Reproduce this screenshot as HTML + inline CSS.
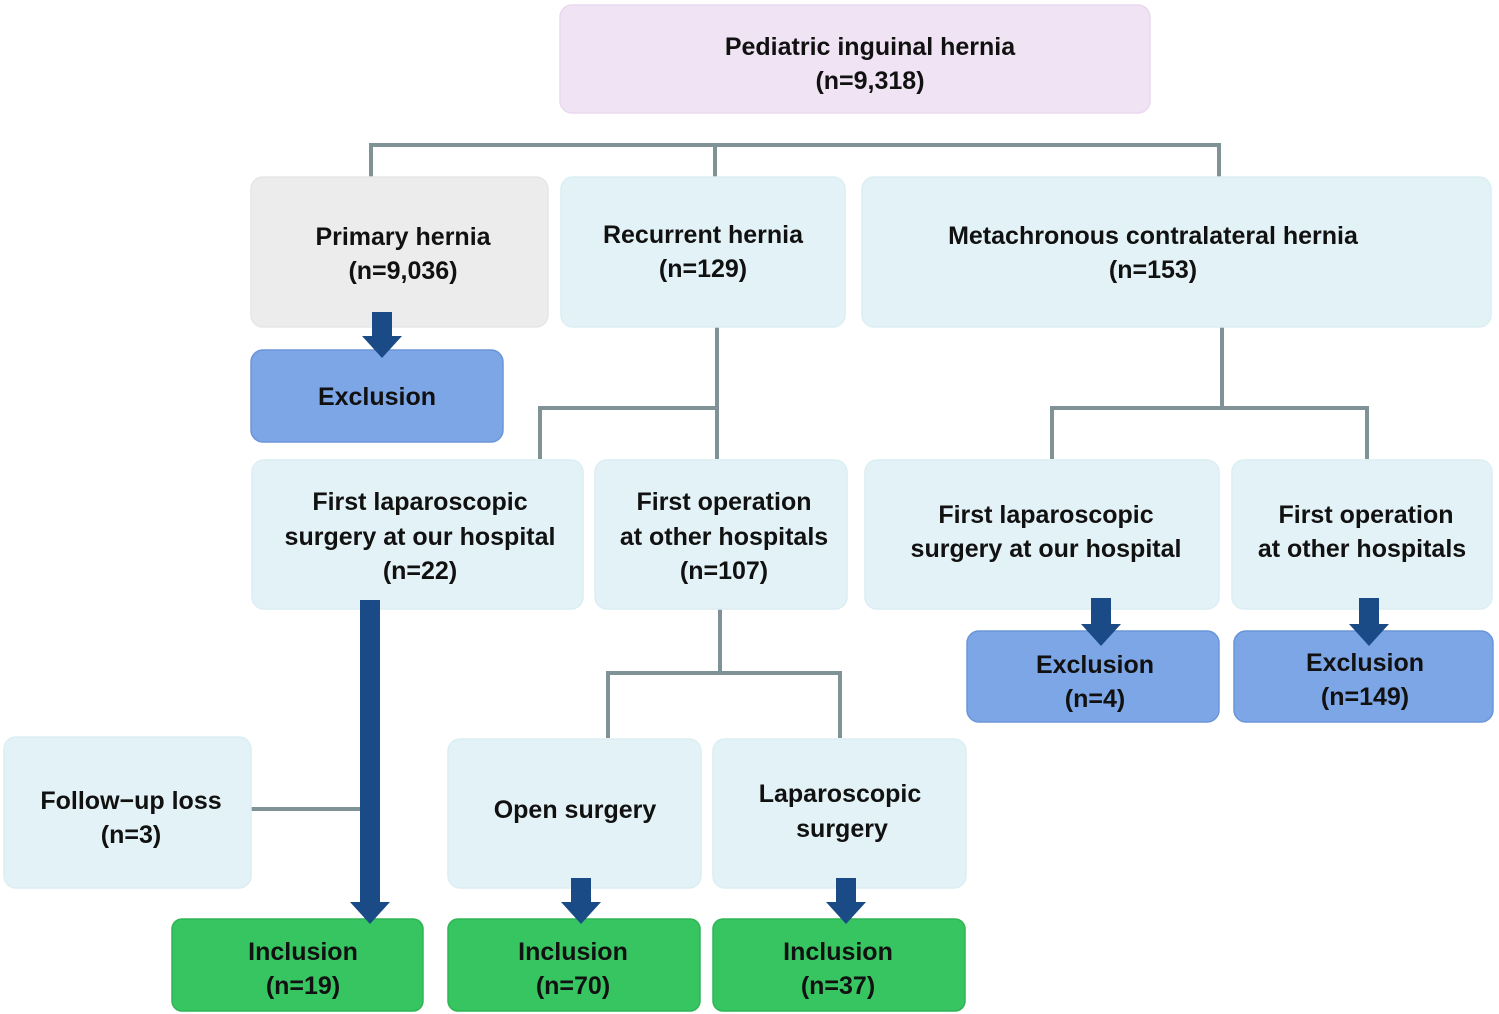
<!DOCTYPE html>
<html><head><meta charset="utf-8"><style>
html,body{margin:0;padding:0;background:#fff;}
svg{display:block;}
text{font-family:"Liberation Sans","DejaVu Sans",sans-serif;font-size:25px;fill:#111;text-anchor:middle;font-weight:bold;}
</style></head><body>
<svg width="1499" height="1014" viewBox="0 0 1499 1014" xmlns="http://www.w3.org/2000/svg">
<g stroke="#7f9296" stroke-width="4" fill="none">
<path d="M371 177V145H1219V177M715 145V177"/>
<path d="M717 327V459M540 459V408H717"/>
<path d="M1222 327V408M1052 459V408H1367V459"/>
<path d="M720 609V673M608 738V673H840V738"/>
<path d="M251 809H362"/>
</g>
<g stroke-width="1.5">
<rect x="560" y="5" width="590" height="108" rx="12" fill="#f0e3f4" stroke="#ead8f0"/>
<rect x="251" y="177" width="297" height="150" rx="12" fill="#ececec" stroke="#e6e6e6"/>
<rect x="561" y="177" width="284" height="150" rx="12" fill="#e3f2f6" stroke="#dbeef3"/>
<rect x="862" y="177" width="629" height="150" rx="12" fill="#e3f2f6" stroke="#dbeef3"/>
<rect x="251" y="350" width="252" height="92" rx="12" fill="#7da6e6" stroke="#6b95d8"/>
<rect x="252" y="460" width="331" height="149" rx="12" fill="#e3f2f6" stroke="#dbeef3"/>
<rect x="595" y="460" width="252" height="149" rx="12" fill="#e3f2f6" stroke="#dbeef3"/>
<rect x="865" y="460" width="354" height="149" rx="12" fill="#e3f2f6" stroke="#dbeef3"/>
<rect x="1232" y="460" width="260" height="149" rx="12" fill="#e3f2f6" stroke="#dbeef3"/>
<rect x="967" y="631" width="252" height="91" rx="12" fill="#7da6e6" stroke="#6b95d8"/>
<rect x="1234" y="631" width="259" height="91" rx="12" fill="#7da6e6" stroke="#6b95d8"/>
<rect x="4" y="737" width="247" height="151" rx="12" fill="#e3f2f6" stroke="#dbeef3"/>
<rect x="448" y="739" width="253" height="149" rx="12" fill="#e3f2f6" stroke="#dbeef3"/>
<rect x="713" y="739" width="253" height="149" rx="12" fill="#e3f2f6" stroke="#dbeef3"/>
<rect x="172" y="919" width="251" height="92" rx="10" fill="#37c562" stroke="#2fb556"/>
<rect x="448" y="919" width="252" height="92" rx="10" fill="#37c562" stroke="#2fb556"/>
<rect x="713" y="919" width="252" height="92" rx="10" fill="#37c562" stroke="#2fb556"/>
</g>
<g fill="#1b4b87">
<path d="M372 312H392V336H402L382 358L362 336H372Z"/>
<path d="M360 600H380V902H390L370 924L350 902H360Z"/>
<path d="M1091 598H1111V624H1121L1101 646L1081 624H1091Z"/>
<path d="M1359 598H1379V624H1389L1369 646L1349 624H1359Z"/>
<path d="M571 878H591V902H601L581 924L561 902H571Z"/>
<path d="M836 878H856V902H866L846 924L826 902H836Z"/>
</g>
<text x="870" y="55">Pediatric inguinal hernia</text><text x="870" y="89">(n=9,318)</text>
<text x="403" y="245">Primary hernia</text><text x="403" y="279">(n=9,036)</text>
<text x="703" y="243">Recurrent hernia</text><text x="703" y="277">(n=129)</text>
<text x="1153" y="244">Metachronous contralateral hernia</text><text x="1153" y="278">(n=153)</text>
<text x="377" y="405">Exclusion</text>
<text x="420" y="510">First laparoscopic</text><text x="420" y="545">surgery at our hospital</text><text x="420" y="579">(n=22)</text>
<text x="724" y="510">First operation</text><text x="724" y="545">at other hospitals</text><text x="724" y="579">(n=107)</text>
<text x="1046" y="523">First laparoscopic</text><text x="1046" y="557">surgery at our hospital</text>
<text x="1366" y="523">First operation</text><text x="1362" y="557">at other hospitals</text>
<text x="1095" y="673">Exclusion</text><text x="1095" y="707">(n=4)</text>
<text x="1365" y="671">Exclusion</text><text x="1365" y="705">(n=149)</text>
<text x="131" y="809">Follow−up loss</text><text x="131" y="843">(n=3)</text>
<text x="575" y="818">Open surgery</text>
<text x="840" y="802">Laparoscopic</text><text x="842" y="837">surgery</text>
<text x="303" y="960">Inclusion</text><text x="303" y="994">(n=19)</text>
<text x="573" y="960">Inclusion</text><text x="573" y="994">(n=70)</text>
<text x="838" y="960">Inclusion</text><text x="838" y="994">(n=37)</text>
</svg>
</body></html>
